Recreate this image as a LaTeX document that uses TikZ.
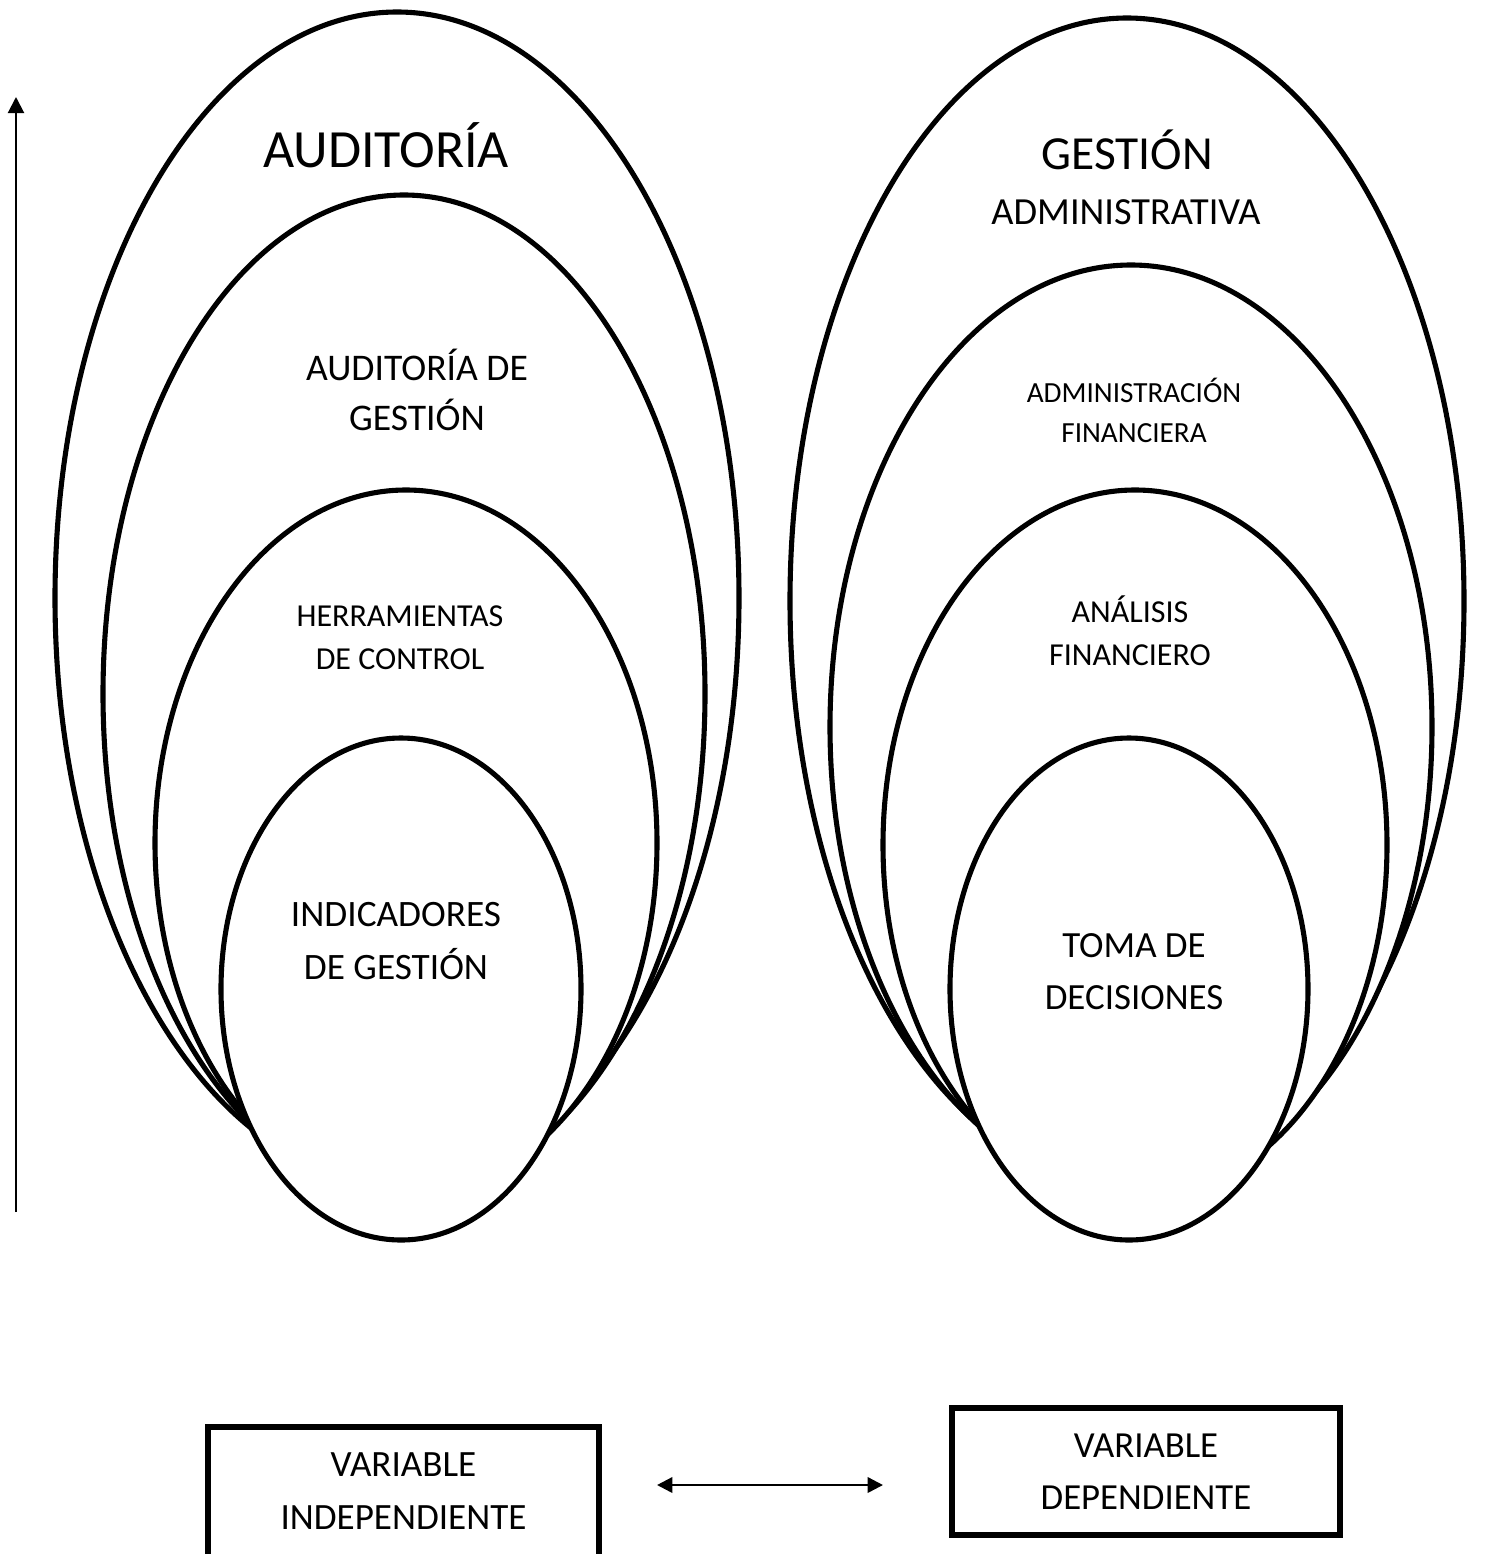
\documentclass[tikz,border=0pt]{standalone}
\usepackage{fontspec}
\setmainfont{Carlito}
\usetikzlibrary{arrows.meta}

\begin{document}
\begin{tikzpicture}[x=0.01cm,y=-0.01cm,
	ring/.style={line width=1.45pt,draw=black,fill=white},
	tag/.style={align=center,inner sep=0pt,black},
	varbox/.style={draw=black,line width=1.5pt,inner sep=0pt}]
	\clip (0,0) rectangle (1485,1554);
	% auditoria
	\filldraw[ring] (397,598) ellipse [x radius=342,y radius=586];
	\filldraw[ring] (404,694) ellipse [x radius=301,y radius=499];
	\filldraw[ring] (406,843) ellipse [x radius=251,y radius=353];
	\filldraw[ring] (401,989) ellipse [x radius=180,y radius=251];
	\node[tag,font=\fontsize{15.3}{18}\selectfont] (aud) at (386,145) {AUDITORÍA};
	\node[tag,font=\fontsize{10.7}{14.2}\selectfont] (audges) at (417,390) {AUDITORÍA DE\\GESTIÓN};
	\node[tag,font=\fontsize{9.1}{12.2}\selectfont] (herr) at (400,638) {HERRAMIENTAS\\DE CONTROL};
	\node[tag,font=\fontsize{10.6}{14.8}\selectfont] (indic) at (396,941) {INDICADORES\\DE GESTIÓN};
	% gestion
	\filldraw[ring] (1127,601) ellipse [x radius=337,y radius=583];
	\filldraw[ring] (1131,727) ellipse [x radius=301,y radius=462];
	\filldraw[ring] (1135,845) ellipse [x radius=252,y radius=355];
	\filldraw[ring] (1129,989) ellipse [x radius=179,y radius=251];
	\node[tag,font=\fontsize{13.5}{17}\selectfont] (ges) at (1127,150) {GESTIÓN};
	\node[tag,font=\fontsize{10.9}{14}\selectfont] (admva) at (1126,212) {ADMINISTRATIVA};
	\node[tag,font=\fontsize{8.3}{11.4}\selectfont] (admfin) at (1134,410) {ADMINISTRACIÓN\\FINANCIERA};
	\node[tag,font=\fontsize{9.1}{12.2}\selectfont] (anfin) at (1130,631) {ANÁLISIS\\FINANCIERO};
	\node[tag,font=\fontsize{10.5}{14.8}\selectfont] (toma) at (1134,972) {TOMA DE\\DECISIONES};
	% eje
	\coordinate (ejeA) at (16,1212);
	\coordinate (ejeB) at (16,97);
	\draw[-{Triangle[length=4.6pt,width=4.6pt]},line width=0.6pt] (ejeA)--(ejeB);
	% variables
	\node[varbox,minimum width=3.91cm,minimum height=1.5cm] (indepbox) at (403.5,1502) {};
	\node[tag,font=\fontsize{10.55}{15}\selectfont] (indep) at (403.5,1491) {VARIABLE\\INDEPENDIENTE};
	\node[varbox,minimum width=3.88cm,minimum height=1.27cm,align=center,font=\fontsize{10.45}{14.8}\selectfont] (dep) at (1146,1471.5) {VARIABLE\\DEPENDIENTE};
	\coordinate (relA) at (657,1485);
	\coordinate (relB) at (883,1485);
	\draw[{Triangle[length=4.4pt,width=4.4pt]}-{Triangle[length=4.4pt,width=4.4pt]},line width=0.7pt] (relA)--(relB);
\end{tikzpicture}
\end{document}
